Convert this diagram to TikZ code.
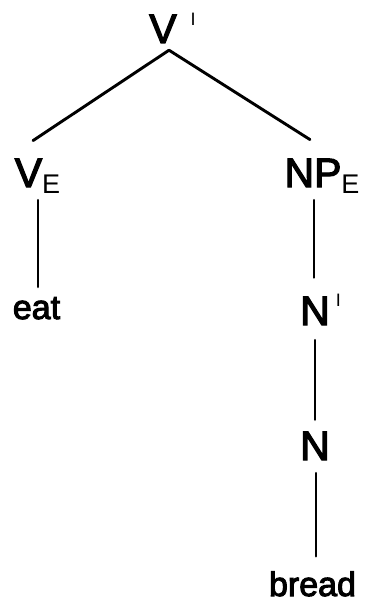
\documentclass[tikz,border=0pt]{standalone}
\usepackage{fontspec}
\setmainfont{Liberation Sans}
\newfontfamily\medfont{Liberation Sans}[FakeBold=3]
\usetikzlibrary{calc}
% small bar-level mark and category subscript
\newcommand\barmark[2]{\rlap{\hspace{#1}\raisebox{#2}{\fontsize{18}{18}\normalfont\selectfont I}}}
\newcommand\catsub[1]{\raisebox{-6pt}{\fontsize{27}{30}\normalfont\selectfont #1}}
\begin{document}
\begin{tikzpicture}[x=1pt,y=-1pt,
  cat/.style={inner sep=0pt,anchor=base,font=\medfont\fontsize{41}{44}\selectfont},
  word/.style={inner sep=0pt,anchor=base,font=\medfont\fontsize{34}{36}\selectfont},
  branch/.style={line width=2.9pt,line cap=round}]
\useasboundingbox (0,0) rectangle (367,607);

% tree nodes
\node[cat]  (vbar)  at (163,43)    {V\barmark{14pt}{17pt}};
\node[cat]  (ve)    at (37.5,187)  {V\catsub{E}};
\node[cat]  (np)    at (313,187)   {NP\rlap{\catsub{E}}};
\node[word] (eat)   at (36.5,319)  {eat};
\node[cat]  (nbar)  at (315,325)   {N\barmark{6pt}{19pt}};
\node[cat]  (n)     at (315,460)   {N};
\node[word] (bread) at (312.5,596) {bread};

% branches
\draw[branch] ($(vbar.south)+(6,7)$) -- ($(ve.north)+(-4.5,-18)$);
\draw[branch] ($(vbar.south)+(6,7)$) -- ($(np.north)+(-3,-19)$);
\draw[branch] ($(ve.south)+(0.5,7)$) -- ($(eat.north)+(1.5,-10)$);
\draw[branch] ($(np.south)+(1,7)$) -- ($(nbar.north)+(-1,-16)$);
\draw[branch] ($(nbar.south)+(0,15)$) -- ($(n.north)+(0,-12)$);
\draw[branch] ($(n.south)+(1,13)$) -- ($(bread.north)+(3.5,-15)$);
\end{tikzpicture}
\end{document}
